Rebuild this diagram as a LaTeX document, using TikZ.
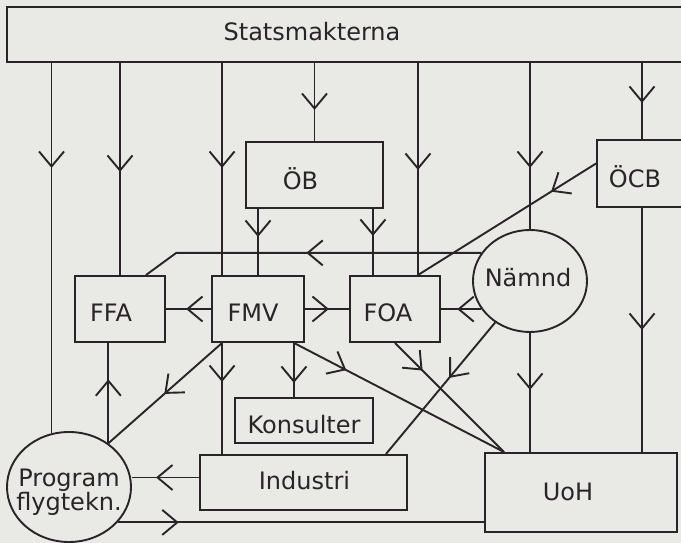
\documentclass[tikz,border=0pt]{standalone}
\usepackage{fontspec}
\setmainfont{DejaVu Sans}
\usetikzlibrary{arrows.meta,decorations.markings,shapes.geometric}
\definecolor{ink}{RGB}{42,36,40}
\definecolor{paper}{RGB}{233,233,230}
\tikzset{
  box/.style={draw,rectangle,inner sep=0pt},
  ring/.style={draw,ellipse,inner sep=0pt},
  arr/.style={postaction={decorate},decoration={markings,mark=at position #1 with {\arrow{>}}}},
}
\begin{document}
\begin{tikzpicture}[x=1pt,y=1pt,color=ink,line width=1.9pt,>={Straight Barb[length=15pt,width=25pt]},every node/.style={font=\fontsize{24}{22}\selectfont,text=ink}]
  \useasboundingbox (0,0) rectangle (681,543);
  \clip (0,0) rectangle (681,543);
  \fill[paper] (0,0) rectangle (681,543);
  % boxes
  \node[box,minimum width=700pt,minimum height=55pt,label={[xshift=-45pt,yshift=3pt]center:Statsmakterna}] (stat) at (357,508.5) {};
  \node[box,minimum width=137pt,minimum height=66pt,label={[xshift=-14pt,yshift=-4pt]center:ÖB}] (ob) at (314.5,368) {};
  \node[box,minimum width=90pt,minimum height=67pt,label={[xshift=-7pt,yshift=-3pt]center:ÖCB}] (ocb) at (642,369.5) {};
  \node[box,minimum width=90pt,minimum height=66pt,label={[xshift=-9pt,yshift=-4pt]center:FFA}] (ffa) at (120,234) {};
  \node[box,minimum width=92pt,minimum height=66pt,label={[xshift=-5pt,yshift=-4pt]center:FMV}] (fmv) at (258,234) {};
  \node[box,minimum width=90pt,minimum height=66pt,label={[xshift=-7pt,yshift=-4pt]center:FOA}] (foa) at (395,234) {};
  \node[ring,minimum width=114pt,minimum height=102pt,label={[xshift=-2pt,yshift=3pt]center:Nämnd}] (namnd) at (530,262) {};
  \node[box,minimum width=138pt,minimum height=45pt,label={[yshift=-4pt]center:Konsulter}] (kons) at (304,122.5) {};
  \node[box,minimum width=207pt,minimum height=55pt,label={[xshift=1pt,yshift=2pt]center:Industri}] (ind) at (303.5,60.5) {};
  \node[box,minimum width=192pt,minimum height=79pt,label={[xshift=-13pt,yshift=1pt]center:UoH}] (uoh) at (581,50.5) {};
  \node[ring,minimum width=124pt,minimum height=110pt,label={[align=center,yshift=-5pt]center:Program\\flygtekn.}] (prog) at (69,56) {};
  % attachment points
  \coordinate (fmvTL) at ([xshift=11pt]fmv.north west);
  \coordinate (fmvBL) at ([xshift=11pt]fmv.south west);
  \coordinate (fmvBR) at ([xshift=-11pt]fmv.south east);
  \coordinate (foaTR) at ([xshift=-23pt]foa.north east);
  \coordinate (ffaTR) at ([xshift=-20pt]ffa.north east);
  \coordinate (obBR) at ([xshift=-11pt]ob.south east);
  \coordinate (uohTL) at ([xshift=20pt]uoh.north west);
  \coordinate (indTR) at ([xshift=-22pt]ind.north east);
  \coordinate (indW) at ([yshift=5pt]ind.west);
  \coordinate (ocbW) at ([yshift=10pt]ocb.west);
  % from Statsmakterna
  \draw[arr=105pt] (stat.south -| prog.108) -- (prog.108);
  \draw[arr=109pt] (stat.south -| ffa.north) -- (ffa.north);
  \draw[arr=105pt] (stat.south -| fmvTL) -- (fmvTL);
  \draw[arr=47pt] (stat.south -| ob.north) -- (ob.north);
  \draw[arr=107pt] (stat.south -| foaTR) -- (foaTR);
  \draw[arr=105pt] (stat.south -| namnd.north) -- (namnd.north);
  \draw[arr=40pt] (stat.south -| ocb.north) -- (ocb.north);
  % ÖB and ÖCB
  \draw[arr=28pt] (ob.south -| fmv.north) -- (fmv.north);
  \draw[arr=27pt] (obBR) -- (obBR |- foa.north);
  \draw[arr=53pt] (ocbW) -- (foaTR);
  \draw[arr=122pt] (ocb.south) -- (ocb.south |- uoh.north);
  % Nämnd
  \draw[arr=175pt] (namnd.150) -- ++(-305,0) -- (ffaTR);
  \draw[arr=24pt] (namnd.210) -- (namnd.210 -| foa.east);
  \draw[arr=57pt] (namnd.south) -- (namnd.south |- uoh.north);
  \draw[arr=72pt] (namnd.230) -- (indTR);
  % FMV and FOA
  \draw[arr=25pt] (fmv.west) -- (ffa.east);
  \draw[arr=24pt] (fmv.east) -- (foa.west);
  \draw[arr=40pt] (fmvBR) -- (fmvBR |- kons.north);
  \draw[arr=39pt] (fmvBL) -- (fmvBL |- ind.north);
  \draw[arr=77pt] (fmvBL) -- (prog.48);
  \draw[arr=59pt] (fmvBR) -- (uohTL);
  \draw[arr=39pt] (foa.south) -- (uohTL);
  % Program and Industri
  \draw[arr=64pt] (prog.48) -- (prog.48 |- ffa.south);
  \draw[arr=43pt] (indW) -- (indW -| prog.east);
  \draw[arr=61pt] (prog.324) -- (prog.324 -| uoh.west);
\end{tikzpicture}
\end{document}
